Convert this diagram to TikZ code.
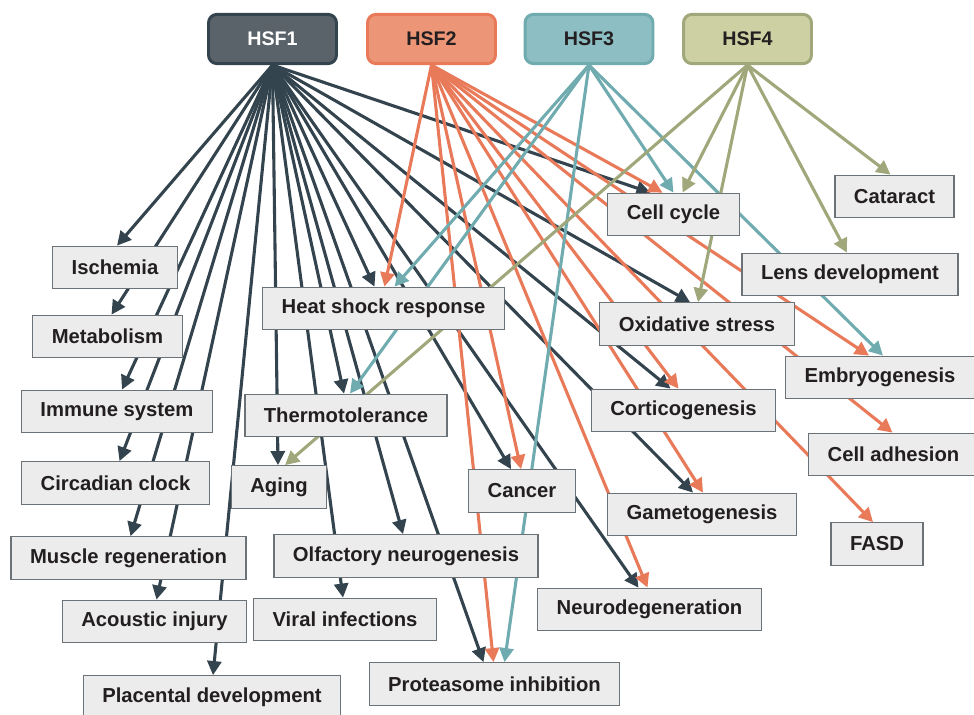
\documentclass[tikz,border=0pt]{standalone}
\usepackage{fontspec}
\setmainfont{Liberation Sans}
\usetikzlibrary{arrows.meta,calc,backgrounds}

\definecolor{hsfonedark}{HTML}{34444E}
\definecolor{hsfonefill}{HTML}{5B636A}
\definecolor{hsftwoline}{HTML}{E97A59}
\definecolor{hsftwofill}{HTML}{EC9677}
\definecolor{hsfthreeline}{HTML}{70ABB0}
\definecolor{hsfthreefill}{HTML}{8CBEC4}
\definecolor{hsffourline}{HTML}{A0A77A}
\definecolor{hsffourfill}{HTML}{CDD0A3}
\definecolor{boxfill}{HTML}{ECECEC}
\definecolor{boxline}{HTML}{6B7378}
\definecolor{txt}{HTML}{231F20}

\tikzset{
  hsf/.style={rounded corners=6pt, line width=2.1pt, minimum width=91pt, minimum height=35pt,
    font=\fontsize{14}{16}\selectfont\bfseries, text=txt},
  effect/.style={draw=boxline, fill=boxfill, line width=0.9pt, minimum height=30.2pt,
    inner xsep=13.5pt, font=\fontsize{14.4}{17}\selectfont\bfseries, text=txt},
  link/.style={line width=2.2pt, -{Triangle[length=10pt,width=10pt]}},
}

\begin{document}
\begin{tikzpicture}[x=0.025cm, y=-0.025cm]
    \useasboundingbox (0,0) rectangle (974,715);
    % factors
    \node[hsf, draw=hsfonedark, fill=hsfonefill, text=white] (hsf1) at (272.5,39) {HSF1};
    \node[hsf, draw=hsftwoline, fill=hsftwofill] (hsf2) at (431.5,39) {HSF2};
    \node[hsf, draw=hsfthreeline, fill=hsfthreefill] (hsf3) at (589,39) {HSF3};
    \node[hsf, draw=hsffourline, fill=hsffourfill] (hsf4) at (747.5,39) {HSF4};
    % processes
    \node[effect] (ischemia) at (115,267.5) {Ischemia};
    \node[effect] (metabolism) at (107.5,336.5) {Metabolism};
    \node[effect] (immune) at (117,411.5) {Immune system};
    \node[effect] (circadian) at (115.5,483) {Circadian clock};
    \node[effect] (muscle) at (128.5,558) {Muscle regeneration};
    \node[effect] (acoustic) at (154.5,621.5) {Acoustic injury};
    \node[effect] (placental) at (212,697) {Placental development};
    \node[effect] (heatshock) at (383.5,308.5) {Heat shock response};
    \node[effect] (thermo) at (346,415.5) {Thermotolerance};
    \node[effect] (aging) at (279,487) {Aging};
    \node[effect] (olfactory) at (406,556) {Olfactory neurogenesis};
    \node[effect] (viral) at (345,619.5) {Viral infections};
    \node[effect] (cancer) at (522,491) {Cancer};
    \node[effect] (proteasome) at (494.5,684) {Proteasome inhibition};
    \node[effect] (neurodeg) at (649.5,609.5) {Neurodegeneration};
    \node[effect] (gameto) at (702,514.5) {Gametogenesis};
    \node[effect] (cortico) at (683.5,410.5) {Corticogenesis};
    \node[effect] (oxidative) at (697,324) {Oxidative stress};
    \node[effect] (cellcycle) at (673.5,214.5) {Cell cycle};
    \node[effect] (cataract) at (894.5,196.5) {Cataract};
    \node[effect] (lens) at (850,274.5) {Lens development};
    \node[effect] (embryo) at (880,377.5) {Embryogenesis};
    \node[effect] (adhesion) at (893.5,454.5) {Cell adhesion};
    \node[effect] (fasd) at (877,544) {FASD};

    \begin{scope}[on background layer]
    % HSF1
    \draw[link, hsfonedark] (hsf1.south) -- ($(ischemia.north)+(2,0)$);
    \draw[link, hsfonedark] (hsf1.south) -- ($(metabolism.north)+(4,0)$);
    \draw[link, hsfonedark] (hsf1.south) -- ($(immune.north)+(5,0)$);
    \draw[link, hsfonedark] (hsf1.south) -- ($(circadian.north)+(4,0)$);
    \draw[link, hsfonedark] (hsf1.south) -- ($(muscle.north)+(2,0)$);
    \draw[link, hsfonedark] (hsf1.south) -- ($(acoustic.north)+(2,0)$);
    \draw[link, hsfonedark] (hsf1.south) -- ($(placental.north)+(1,0)$);
    \draw[link, hsfonedark] (hsf1.south) -- ($(heatshock.north)+(-9,0)$);
    \draw[link, hsfonedark] (hsf1.south) -- ($(thermo.north)+(-2,0)$);
    \draw[link, hsfonedark] (hsf1.south) -- ($(aging.north)+(-1,0)$);
    \draw[link, hsfonedark] (hsf1.south) -- ($(olfactory.north)+(-3,0)$);
    \draw[link, hsfonedark] (hsf1.south) -- ($(viral.north)+(-2,0)$);
    \draw[link, hsfonedark] (hsf1.south) -- ($(cancer.north)+(-11,0)$);
    \draw[link, hsfonedark] (hsf1.south) -- ($(proteasome.north)+(-11,0)$);
    \draw[link, hsfonedark] (hsf1.south) -- ($(neurodeg.north)+(-11,0)$);
    \draw[link, hsfonedark] (hsf1.south) -- ($(gameto.north)+(-9,0)$);
    \draw[link, hsfonedark] (hsf1.south) -- ($(cortico.north)+(-13,0)$);
    \draw[link, hsfonedark] (hsf1.south) -- ($(oxidative.north)+(-7,0)$);
    \draw[link, hsfonedark] (hsf1.south) -- ($(cellcycle.north)+(-23,0)$);
    % HSF2
    \draw[link, hsftwoline] (hsf2.south) -- ($(heatshock.north)+(1,0)$);
    \draw[link, hsftwoline] (hsf2.south) -- ($(cancer.north)+(-1,0)$);
    \draw[link, hsftwoline] (hsf2.south) -- ($(proteasome.north)+(-1,0)$);
    \draw[link, hsftwoline] (hsf2.south) -- ($(neurodeg.north)+(-2,0)$);
    \draw[link, hsftwoline] (hsf2.south) -- ($(gameto.north)+(1,0)$);
    \draw[link, hsftwoline] (hsf2.south) -- ($(cortico.north)+(-5,0)$);
    \draw[link, hsftwoline] (hsf2.south) -- ($(cellcycle.north)+(-11,0)$);
    \draw[link, hsftwoline] (hsf2.south) -- ($(embryo.north)+(-11,0)$);
    \draw[link, hsftwoline] (hsf2.south) -- ($(adhesion.north)+(-1,0)$);
    \draw[link, hsftwoline] (hsf2.south) -- ($(fasd.north)+(-4,0)$);
    % HSF3
    \draw[link, hsfthreeline] (hsf3.south) -- ($(heatshock.north)+(11,0)$);
    \draw[link, hsfthreeline] (hsf3.south) -- ($(thermo.north)+(4,0)$);
    \draw[link, hsfthreeline] (hsf3.south) -- ($(proteasome.north)+(10,0)$);
    \draw[link, hsfthreeline] (hsf3.south) -- (cellcycle.north);
    \draw[link, hsfthreeline] (hsf3.south) -- ($(embryo.north)+(3,0)$);
    % HSF4
    \draw[link, hsffourline] (hsf4.south) -- ($(aging.north)+(6,0)$);
    \draw[link, hsffourline] (hsf4.south) -- ($(cellcycle.north)+(9,0)$);
    \draw[link, hsffourline] (hsf4.south) -- ($(oxidative.north)+(1,0)$);
    \draw[link, hsffourline] (hsf4.south) -- ($(lens.north)+(-3,0)$);
    \draw[link, hsffourline] (hsf4.south) -- ($(cataract.north)+(-4,0)$);
    \end{scope}
\end{tikzpicture}
\end{document}
